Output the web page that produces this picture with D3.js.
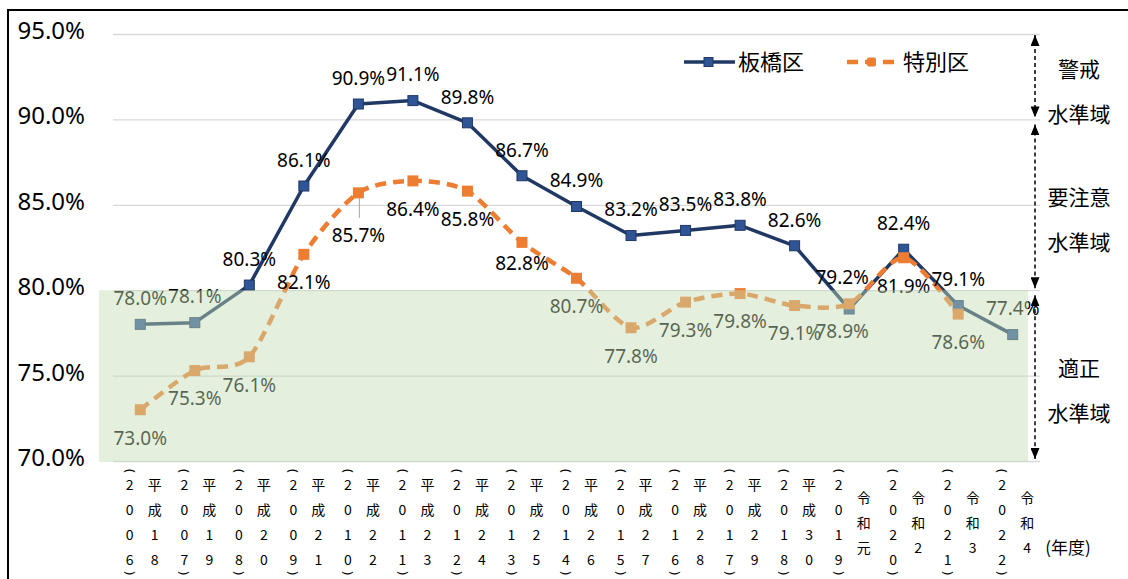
<!DOCTYPE html>
<html>
<head>
<meta charset="utf-8">
<script src="https://cdn.jsdelivr.net/npm/d3@7"></script>
<style>
body{margin:0;background:#fff}
svg{display:block}
</style>
</head>
<body>
<div id="root"></div>
<script>
const w = 1128, h = 579

// data
const years = ["2006","2007","2008","2009","2010","2011","2012","2013","2014","2015","2016","2017","2018","2019","2020","2021","2022"]
const wareki = ["平成18","平成19","平成20","平成21","平成22","平成23","平成24","平成25","平成26","平成27","平成28","平成29","平成30","令和元","令和2","令和3","令和4"]
const itabashi = [78.0,78.1,80.3,86.1,90.9,91.1,89.8,86.7,84.9,83.2,83.5,83.8,82.6,78.9,82.4,79.1,77.4]
const tokubetsu = [73.0,75.3,76.1,82.1,85.7,86.4,85.8,82.8,80.7,77.8,79.3,79.8,79.1,79.2,81.9,78.6,null]
const yTicks = [70,75,80,85,90,95]
const seriesNames = ["板橋区","特別区"]
const zoneNames = [["警戒","水準域"],["要注意","水準域"],["適正","水準域"]]
const zoneBounds = [[95,90],[90,80],[80,70]]

// label placement (px nudges, by index)
const nudgeIta = {13:[-7,22]}
const nudgeToku = {4:[0,42], 7:[0,21], 13:[-7,-27]}

const navy = "#203864", navyFill = "#2f5597", orange = "#ed7d31"
const numFont = "'Noto Sans', sans-serif"
const jpFont = "'Noto Sans CJK JP', sans-serif"

//scales
const x = d3.scalePoint()
    .domain(years)
    .range([113, 1040])
    .padding(0.5)

const y = d3.scaleLinear()
    .domain([70, 95])
    .range([461, 34])

const svg = d3.select("#root").append("svg")
    .attr("width", w)
    .attr("height", h)

// frame
svg.append("path")
    .attr("d", `M8,${h}V10H${w}`)
    .attr("fill", "none")
    .attr("stroke", "#000")
    .attr("stroke-width", 2)

// y axis + grid
const yAxis = svg.append("g")
    .attr("transform", "translate(113,0)")
    .call(d3.axisLeft(y)
        .tickValues(yTicks)
        .tickSize(-(1040 - 113))
        .tickPadding(28)
        .tickFormat(d => d3.format(".1f")(d) + "%"))
yAxis.select(".domain").remove()
yAxis.selectAll(".tick line").attr("stroke", "#d9d9d9").attr("stroke-width", 1.3)
yAxis.selectAll(".tick text")
    .attr("font-family", numFont)
    .attr("font-size", 24)
    .attr("fill", "#000")
    .attr("dy", "0.19em")

// x axis, vertical labels
const xAxis = svg.append("g")
    .attr("transform", `translate(0,${y(70)})`)
    .call(d3.axisBottom(x).tickSize(0).tickFormat(""))
xAxis.select(".domain").remove()
xAxis.selectAll(".tick").each(function (d, i) {
    const g = d3.select(this)
    const yc = 62, step = 25
    const digits = Array.from(d)
    digits.forEach((c, k) => {
        g.append("text")
            .attr("x", -11)
            .attr("y", yc + (k - (digits.length - 1) / 2) * step)
            .attr("dy", "0.35em")
            .attr("text-anchor", "middle")
            .attr("font-family", jpFont)
            .attr("font-size", 14)
            .attr("fill", "#000")
            .text(c)
    })
    // parentheses turned for vertical writing
    ;[["(", 10], [")", 112]].forEach(([p, py]) => {
        g.append("text")
            .attr("x", -11)
            .attr("y", py)
            .attr("dy", "0.3em")
            .attr("text-anchor", "middle")
            .attr("font-family", numFont)
            .attr("font-size", 13)
            .attr("fill", "#000")
            .attr("transform", `rotate(90,-11,${py})`)
            .text(p)
    })
    const wk = Array.from(wareki[i])
    wk.forEach((c, k) => {
        g.append("text")
            .attr("x", 14)
            .attr("y", yc + (k - (wk.length - 1) / 2) * step)
            .attr("dy", "0.35em")
            .attr("text-anchor", "middle")
            .attr("font-family", jpFont)
            .attr("font-size", 14)
            .attr("fill", "#000")
            .text(c)
    })
})

svg.append("text")
    .attr("x", 1068)
    .attr("y", 548)
    .attr("dy", "0.35em")
    .attr("text-anchor", "middle")
    .attr("font-family", jpFont)
    .attr("font-size", 17)
    .attr("fill", "#000")
    .text("(年度)")

// lines
const line = d3.line()
    .defined(d => d != null)
    .x((d, i) => x(years[i]))
    .y(d => y(d))

svg.append("path")
    .attr("d", line(itabashi))
    .attr("fill", "none")
    .attr("stroke", navy)
    .attr("stroke-width", 3.5)
    .attr("stroke-linejoin", "round")

svg.selectAll("rect.ita").data(itabashi).enter().append("rect")
    .attr("class", "ita")
    .attr("x", (d, i) => x(years[i]) - 5)
    .attr("y", d => y(d) - 5)
    .attr("width", 10)
    .attr("height", 10)
    .attr("fill", navyFill)
    .attr("stroke", navy)
    .attr("stroke-width", 1)

const tokuPts = tokubetsu.map((d, i) => ({year: years[i], value: d})).filter(d => d.value != null)

svg.append("path")
    .attr("d", d3.line()
        .x(d => x(d.year))
        .y(d => y(d.value))
        .curve(d3.curveCardinal.tension(0.2))(tokuPts))
    .attr("fill", "none")
    .attr("stroke", orange)
    .attr("stroke-width", 4.5)
    .attr("stroke-dasharray", "11,7")

svg.selectAll("rect.toku").data(tokuPts).enter().append("rect")
    .attr("class", "toku")
    .attr("x", d => x(d.year) - 5.5)
    .attr("y", d => y(d.value) - 5.5)
    .attr("width", 11)
    .attr("height", 11)
    .attr("fill", orange)

// data labels
const fmt = d => d3.format(".1f")(d) + "%"

svg.selectAll("text.labIta").data(itabashi).enter().append("text")
    .attr("class", "labIta")
    .attr("x", (d, i) => x(years[i]) + (nudgeIta[i] ? nudgeIta[i][0] : 0))
    .attr("y", (d, i) => y(d) + (nudgeIta[i] ? nudgeIta[i][1] : -26))
    .attr("dy", "0.36em")
    .attr("text-anchor", "middle")
    .attr("font-family", numFont)
    .attr("font-size", 19)
    .attr("fill", "#000")
    .text(fmt)

svg.selectAll("text.labToku").data(tokuPts).enter().append("text")
    .attr("class", "labToku")
    .attr("x", (d, i) => x(d.year) + (nudgeToku[i] ? nudgeToku[i][0] : 0))
    .attr("y", (d, i) => y(d.value) + (nudgeToku[i] ? nudgeToku[i][1] : 28))
    .attr("dy", "0.36em")
    .attr("text-anchor", "middle")
    .attr("font-family", numFont)
    .attr("font-size", 19)
    .attr("fill", "#000")
    .text(d => fmt(d.value))

// leader line for the moved label
svg.append("line")
    .attr("x1", x(years[4]) + 1)
    .attr("x2", x(years[4]) + 1)
    .attr("y1", y(tokubetsu[4]) + 5)
    .attr("y2", y(tokubetsu[4]) + 25)
    .attr("stroke", "#a6a6a6")
    .attr("stroke-width", 1)

// green band for the proper zone, over the marks
svg.append("rect")
    .attr("x", 99)
    .attr("y", y(80))
    .attr("width", 1028 - 99)
    .attr("height", y(70) - y(80) + 1)
    .attr("fill", "rgb(195,222,180)")
    .attr("fill-opacity", 0.45)

// legend
const legend = svg.append("g").attr("transform", "translate(684,62)")
const legendItems = [
    {name: seriesNames[0], dx: 0, color: navy, fill: navyFill, dash: null},
    {name: seriesNames[1], dx: 163, color: orange, fill: orange, dash: "11,7"}
]
legendItems.forEach(d => {
    const g = legend.append("g").attr("transform", `translate(${d.dx},0)`)
    g.append("line")
        .attr("x1", 0).attr("x2", 51)
        .attr("stroke", d.color)
        .attr("stroke-width", d.dash ? 4.5 : 3.5)
        .attr("stroke-dasharray", d.dash)
    g.append("rect")
        .attr("x", 20).attr("y", -4.5)
        .attr("width", 9).attr("height", 9)
        .attr("rx", d.dash ? 2 : 0)
        .attr("fill", d.fill)
        .attr("stroke", d.dash ? "none" : navy)
    g.append("text")
        .attr("x", d.dash ? 56 : 54)
        .attr("dy", "0.36em")
        .attr("font-family", jpFont)
        .attr("font-size", 22)
        .attr("fill", "#000")
        .text(d.name)
})

// zone arrows and names
const defs = svg.append("defs")
defs.append("marker")
    .attr("id", "arrowHead")
    .attr("viewBox", "0 0 10 10")
    .attr("refX", 10)
    .attr("refY", 5)
    .attr("markerWidth", 11)
    .attr("markerHeight", 9)
    .attr("markerUnits", "userSpaceOnUse")
    .attr("preserveAspectRatio", "none")
    .attr("orient", "auto-start-reverse")
    .append("path")
    .attr("d", "M0,0L10,5L0,10Z")
    .attr("fill", "#000")

const ax = 1035
zoneBounds.forEach((b, i) => {
    const top = y(b[0]) + (i == 0 ? 1 : 5)
    const bottom = y(b[1]) - 2
    svg.append("line")
        .attr("x1", ax).attr("x2", ax)
        .attr("y1", top).attr("y2", bottom)
        .attr("stroke", "#000")
        .attr("stroke-width", 1.5)
        .attr("stroke-dasharray", "4,3")
        .attr("marker-start", "url(#arrowHead)")
        .attr("marker-end", "url(#arrowHead)")
    const mid = (y(b[0]) + y(b[1])) / 2
    zoneNames[i].forEach((t, k) => {
        svg.append("text")
            .attr("x", 1079)
            .attr("y", mid + (k == 0 ? -7 : 38))
            .attr("dy", "0.36em")
            .attr("text-anchor", "middle")
            .attr("font-family", jpFont)
            .attr("font-size", 21)
            .attr("fill", "#000")
            .text(t)
    })
})
</script>
</body>
</html>
